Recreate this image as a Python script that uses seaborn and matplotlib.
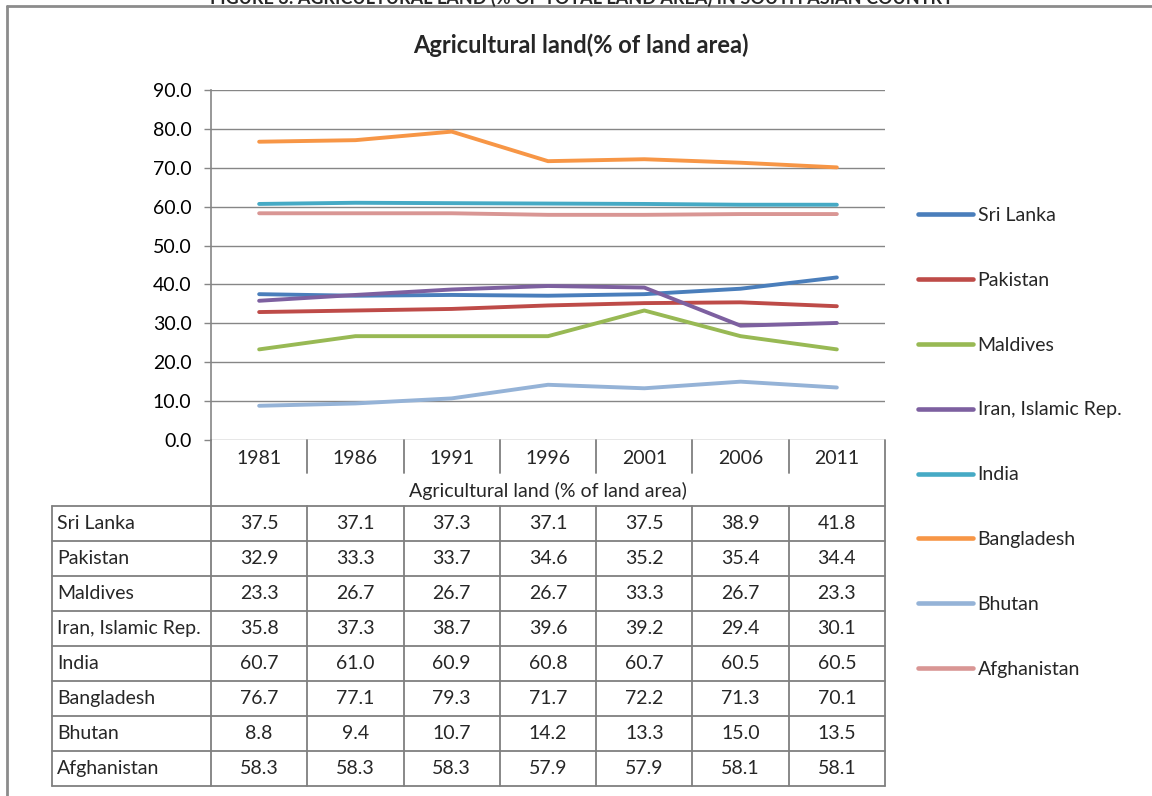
import matplotlib
matplotlib.use("Agg")
import matplotlib.pyplot as plt
import matplotlib.transforms as mtransforms
from matplotlib.lines import Line2D
import seaborn as sns
import pandas as pd
import numpy as np

years = ["1981", "1986", "1991", "1996", "2001", "2006", "2011"]
countries = ["Sri Lanka", "Pakistan", "Maldives", "Iran, Islamic Rep.",
             "India", "Bangladesh", "Bhutan", "Afghanistan"]
sri_lanka = [37.5, 37.1, 37.3, 37.1, 37.5, 38.9, 41.8]
pakistan = [32.9, 33.3, 33.7, 34.6, 35.2, 35.4, 34.4]
maldives = [23.3, 26.7, 26.7, 26.7, 33.3, 26.7, 23.3]
iran = [35.8, 37.3, 38.7, 39.6, 39.2, 29.4, 30.1]
india = [60.7, 61.0, 60.9, 60.8, 60.7, 60.5, 60.5]
bangladesh = [76.7, 77.1, 79.3, 71.7, 72.2, 71.3, 70.1]
bhutan = [8.8, 9.4, 10.7, 14.2, 13.3, 15.0, 13.5]
afghanistan = [58.3, 58.3, 58.3, 57.9, 57.9, 58.1, 58.1]
series = [sri_lanka, pakistan, maldives, iran, india, bangladesh, bhutan, afghanistan]
colors = ["#4A7EBB", "#BE4B48", "#98B954", "#7D60A0", "#46AAC5", "#F79646", "#95B3D7", "#D99694"]
y_ticks = [0, 10, 20, 30, 40, 50, 60, 70, 80, 90]
chart_title = "Agricultural land(% of land area)"
table_caption = "Agricultural land (% of land area)"
fig_caption = "FIGURE 3: AGRICULTURAL LAND (% OF TOTAL LAND AREA) IN SOUTH ASIAN COUNTRY"

rows = []
for c, vals in zip(countries, series):
    for y, v in zip(years, vals):
        rows.append({"country": c, "year": y, "value": v})
df = pd.DataFrame(rows)

sns.set_theme(style="white")
plt.rcParams["font.family"] = ["Lato", "DejaVu Sans"]

FS = 14
W, H = 1152, 796
fig = plt.figure(figsize=(W / 100, H / 100), dpi=100)
fig.patch.set_facecolor("white")

def fx(px):
    return px / W

def fy(py):
    return 1 - py / H

ax = fig.add_axes([fx(211), fy(440), fx(885) - fx(211), fy(90) - fy(440)])
sns.lineplot(data=df, x="year", y="value", hue="country", hue_order=countries,
             palette=colors, linewidth=2.8, ax=ax, sort=False, legend=False)
for ln in ax.lines:
    ln.set_solid_capstyle("round")
    ln.set_solid_joinstyle("round")

ax.set_xlim(-0.5, len(years) - 0.5)
ax.set_ylim(0, 90)
ax.set_yticks(y_ticks)
ax.set_yticklabels([f"{t:.1f}" for t in y_ticks], fontsize=FS, color="black")
ax.set_xticks([])
ax.set_xlabel("")
ax.set_ylabel("")
grey = "#868686"
for t in y_ticks:
    ax.axhline(t, color=grey, lw=1.0, zorder=0)
for s in ["top", "right", "bottom"]:
    ax.spines[s].set_visible(False)
ax.spines["left"].set_color(grey)
ax.spines["left"].set_linewidth(1.2)
ax.tick_params(axis="y", left=True, length=5, width=1.0, color=grey, pad=9)

fig.text(fx(581), fy(45), chart_title, fontsize=17, fontweight="bold",
         ha="center", va="center")

# Legend
handles = [Line2D([0], [0], color=c, lw=3.3, solid_capstyle="round") for c in colors]
fig.legend(handles, countries, loc="upper left",
           bbox_to_anchor=(fx(918), fy(207)), frameon=False, fontsize=FS,
           handlelength=2.85, handletextpad=0.22, labelspacing=2.46,
           borderpad=0, borderaxespad=0)

# Data table below the chart
trans = mtransforms.blended_transform_factory(ax.transData, fig.transFigure)
tgrey = "#7F7F7F"
lw_t = 1.3
n = len(years)
xl = -0.5
xr = n - 0.5
for i in range(1, n):
    fig.add_artist(Line2D([i - 0.5, i - 0.5], [fy(440), fy(473)], transform=trans, color=tgrey, lw=lw_t))
for i, yr in enumerate(years):
    fig.text(i, fy(458), yr, transform=trans, ha="center", va="center", fontsize=FS)
fig.text((n - 1) / 2, fy(491), table_caption, transform=trans, ha="center", va="center", fontsize=FS)
fig.add_artist(Line2D([xl, xl], [fy(440), fy(786)], transform=trans, color=tgrey, lw=lw_t))
fig.add_artist(Line2D([xr, xr], [fy(440), fy(786)], transform=trans, color=tgrey, lw=lw_t))
row_top = 506
row_h = 35
nrows = len(countries)
for r in range(nrows + 1):
    yy = fy(row_top + r * row_h)
    fig.add_artist(Line2D([fx(52), fx(885)], [yy, yy], color=tgrey, lw=lw_t))
fig.add_artist(Line2D([fx(52), fx(52)], [fy(row_top), fy(row_top + nrows * row_h)], color=tgrey, lw=lw_t))
for i in range(1, n):
    fig.add_artist(Line2D([i - 0.5, i - 0.5], [fy(row_top), fy(row_top + nrows * row_h)],
                          transform=trans, color=tgrey, lw=lw_t))
for r, (c, vals) in enumerate(zip(countries, series)):
    yc = fy(row_top + r * row_h + row_h / 2)
    fig.text(fx(57), yc, c, ha="left", va="center", fontsize=FS)
    for i, v in enumerate(vals):
        fig.text(i, yc, f"{v:.1f}", transform=trans, ha="center", va="center", fontsize=FS)

# Outer chart frame (partially visible)
fig.add_artist(Line2D([fx(7), 1.0], [fy(6), fy(6)], color="#8C8C8C", lw=2))
fig.add_artist(Line2D([fx(7), fx(7)], [fy(6), 0], color="#8C8C8C", lw=2))
# Figure caption, cut off at the top edge as in the source
fig.text(fx(582), fy(-2), fig_caption, ha="center", va="center", fontsize=13, fontweight="bold")

fig.savefig("out.png", dpi=100, facecolor="white")
